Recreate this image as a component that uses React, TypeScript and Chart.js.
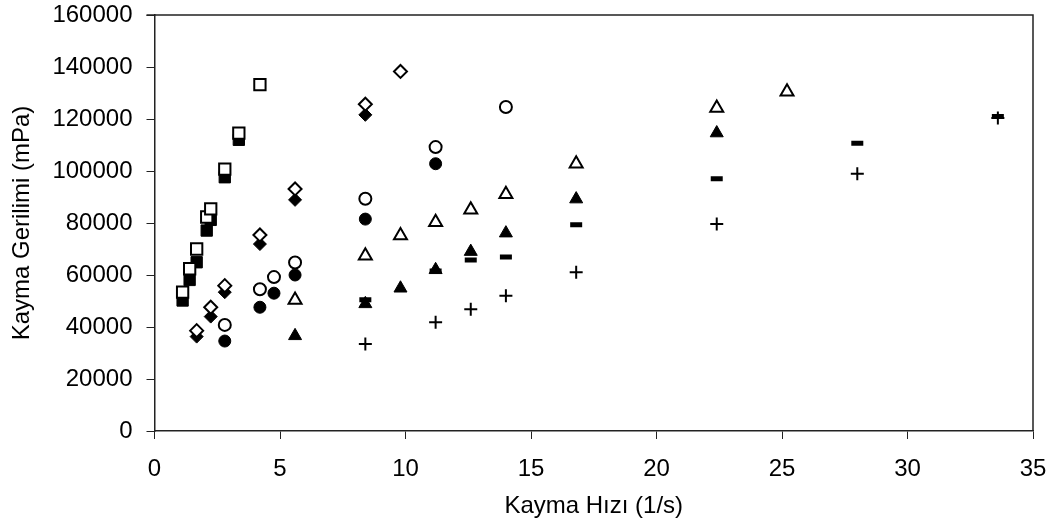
import React, { useEffect, useRef } from "react";
import { Chart, registerables } from "chart.js";

Chart.register(...registerables);

// Shear rate (1/s) and shear stress (mPa) per series
const openSquareX = [1.12, 1.4, 1.68, 2.08, 2.24, 2.8, 3.36, 4.2];
const openSquareY = [53400, 62400, 70000, 82300, 85400, 100700, 114600, 133200];
const filledSquareX = [1.12, 1.4, 1.68, 2.08, 2.24, 2.8, 3.36];
const filledSquareY = [50200, 58100, 64900, 77100, 81200, 97600, 112000];

const openDiamondX = [1.68, 2.24, 2.8, 4.2, 5.6, 8.4, 9.8];
const openDiamondY = [38600, 47600, 55900, 75400, 93100, 125700, 138300];
const filledDiamondX = [1.68, 2.24, 2.8, 4.2, 5.6, 8.4];
const filledDiamondY = [36300, 44000, 53400, 71900, 88900, 121600];

const openCircleX = [2.8, 4.2, 4.76, 5.6, 8.4, 11.2, 14];
const openCircleY = [40800, 54500, 59200, 64800, 89300, 109200, 124600];
const filledCircleX = [2.8, 4.2, 4.76, 5.6, 8.4, 11.2];
const filledCircleY = [34600, 47600, 53000, 60000, 81500, 102800];

const openTriangleX = [5.6, 8.4, 9.8, 11.2, 12.6, 14, 16.8, 22.4, 25.2];
const openTriangleY = [50400, 67400, 75200, 80300, 85100, 91100, 102800, 124200, 130500];
const filledTriangleX = [5.6, 8.4, 9.8, 11.2, 12.6, 14, 16.8, 22.4];
const filledTriangleY = [36600, 48900, 54900, 62000, 69000, 76100, 89200, 114600];

const dashX = [8.4, 11.2, 12.6, 14, 16.8, 22.4, 28, 33.6];
const dashY = [50500, 61500, 65800, 66900, 79300, 97000, 110700, 121000];
const plusX = [8.4, 11.2, 12.6, 14, 16.8, 22.4, 28, 33.6];
const plusY = [33500, 41800, 46800, 52000, 61100, 79600, 98900, 120400];

const xTitle = "Kayma Hızı (1/s)";
const yTitle = "Kayma Gerilimi (mPa)";
const FONT = "'Liberation Sans', Arial, sans-serif";
const FS = 24;

const pts = (xs: number[], ys: number[]) => xs.map((x, i) => ({ x, y: ys[i] }));

const boxPlugin = {
  id: "box",
  afterDraw(chart: any) {
    const { ctx, chartArea: a } = chart;
    ctx.save();
    ctx.strokeStyle = "#222";
    ctx.lineWidth = 1.5;
    ctx.beginPath();
    ctx.moveTo(a.left - 8, a.top);
    ctx.lineTo(a.right, a.top);
    ctx.lineTo(a.right, a.bottom);
    ctx.stroke();
    ctx.restore();
  },
};

export default function App() {
  const ref = useRef<HTMLCanvasElement>(null);
  useEffect(() => {
    if (!ref.current) return;
    const open = (style: string, r: number) => ({
      pointStyle: style,
      pointRadius: r,
      pointBackgroundColor: "#fff",
      pointBorderColor: "#000",
      pointBorderWidth: 2,
      showLine: false,
    });
    const filled = (style: string, r: number) => ({
      pointStyle: style,
      pointRadius: r,
      pointBackgroundColor: "#000",
      pointBorderColor: "#000",
      pointBorderWidth: 1,
      showLine: false,
    });
    const chart = new Chart(ref.current, {
      type: "scatter",
      data: {
        datasets: [
          { label: "a", data: pts(openSquareX, openSquareY), ...open("rect", 8) },
          { label: "b", data: pts(filledSquareX, filledSquareY), ...filled("rect", 8) },
          { label: "c", data: pts(openDiamondX, openDiamondY), ...open("rectRot", 6.5) },
          { label: "d", data: pts(filledDiamondX, filledDiamondY), ...filled("rectRot", 6.5) },
          { label: "e", data: pts(openCircleX, openCircleY), ...open("circle", 6) },
          { label: "f", data: pts(filledCircleX, filledCircleY), ...filled("circle", 6) },
          { label: "g", data: pts(openTriangleX, openTriangleY), ...open("triangle", 7.5) },
          { label: "i", data: pts(dashX, dashY), pointStyle: "line", pointRadius: 6, pointBorderColor: "#000", pointBorderWidth: 5, showLine: false },
          { label: "h", data: pts(filledTriangleX, filledTriangleY), ...filled("triangle", 7.5) },
          { label: "j", data: pts(plusX, plusY), pointStyle: "cross", pointRadius: 6.5, pointBorderColor: "#000", pointBorderWidth: 2, showLine: false },
        ] as any,
      },
      options: {
        animation: false,
        responsive: false,
        devicePixelRatio: 1,
        layout: { padding: { top: 15, right: 26, left: 0, bottom: 0 } },
        plugins: { legend: { display: false }, tooltip: { enabled: false } },
        scales: {
          x: {
            type: "linear",
            min: 0,
            max: 35,
            ticks: { stepSize: 5, color: "#000", font: { family: FONT, size: FS }, padding: 16 },
            grid: { display: true, drawOnChartArea: false, drawTicks: true, tickLength: 8, color: "#222", lineWidth: 1 },
            border: { display: true, color: "#222", width: 1.5 },
            title: { display: true, text: xTitle, color: "#000", font: { family: FONT, size: FS }, padding: { top: 4, bottom: 4 } },
            afterFit: (s: any) => { s.height = 94; s.paddingLeft = 0; s.paddingRight = 0; },
          },
          y: {
            type: "linear",
            min: 0,
            max: 160000,
            ticks: { stepSize: 20000, color: "#000", font: { family: FONT, size: FS }, padding: 14, callback: (v: any) => String(v) },
            grid: { display: true, drawOnChartArea: false, drawTicks: true, tickLength: 8, color: "#222", lineWidth: 1 },
            border: { display: true, color: "#222", width: 1.5 },
            title: { display: true, text: yTitle, color: "#000", font: { family: FONT, size: FS }, padding: { top: 8, bottom: 4 } },
            afterFit: (s: any) => { s.width = 154.5; s.paddingTop = 0; s.paddingBottom = 0; },
          },
        },
      } as any,
      plugins: [boxPlugin],
    });
    return () => chart.destroy();
  }, []);
  return (
    <div style={{ position: "fixed", left: 0, top: 0, width: 1059, height: 525, background: "#fff" }}>
      <canvas ref={ref} width={1059} height={525} style={{ display: "block", width: 1059, height: 525 }} />
    </div>
  );
}
